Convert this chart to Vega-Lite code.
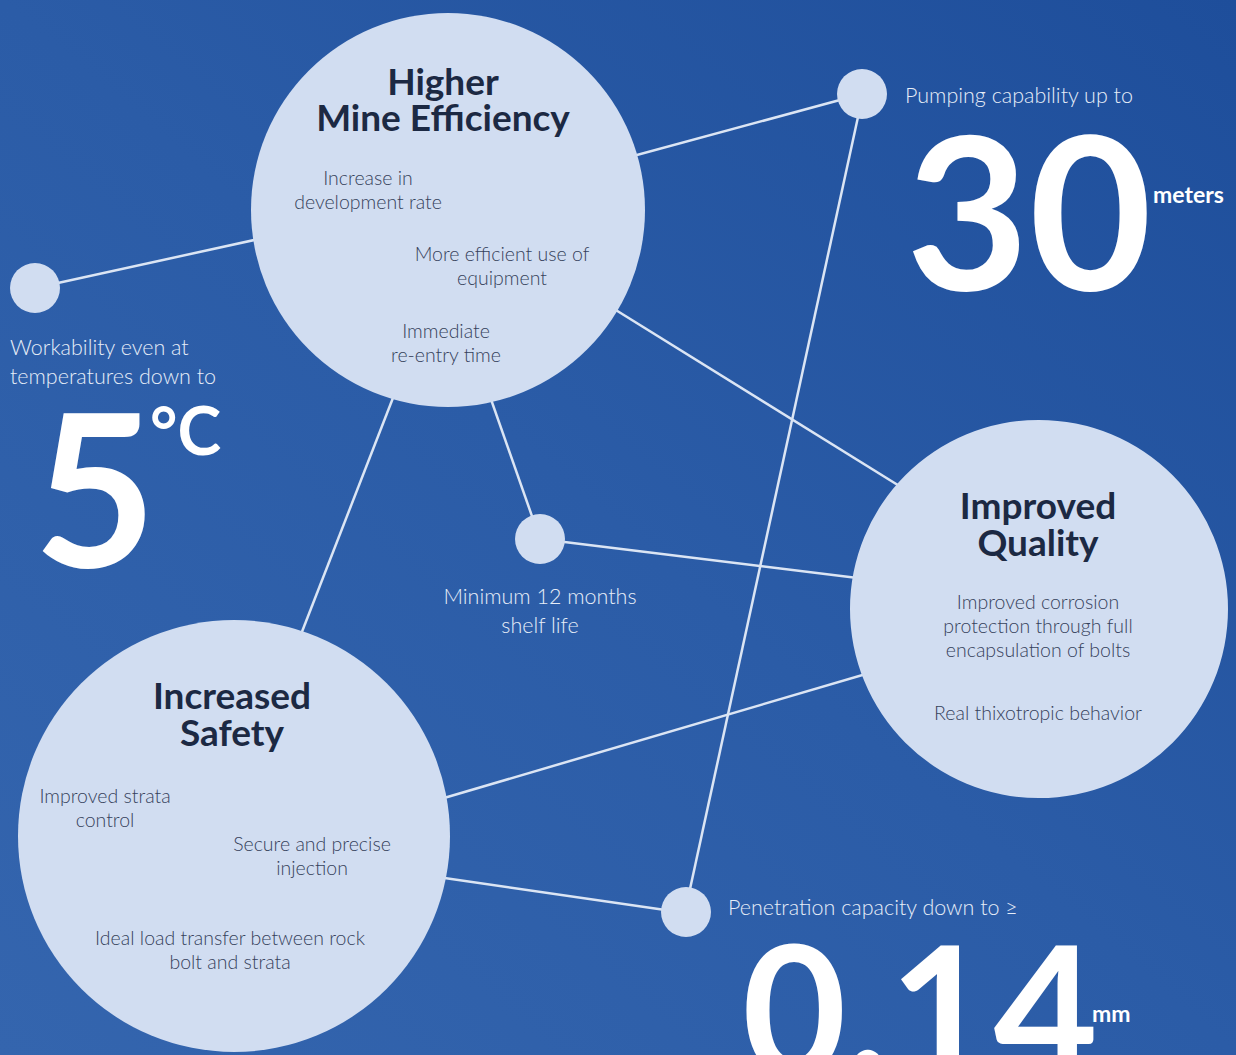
{
  "$schema": "https://vega.github.io/schema/vega-lite/v6.json",
  "width": 1236,
  "height": 1055,
  "autosize": "none",
  "padding": 0,
  "background": "#2a5ba6",
  "config": {
    "view": {
      "stroke": null,
      "fill": {
        "gradient": "linear",
        "x1": 0, "y1": 1, "x2": 1, "y2": 0,
        "stops": [
          {"offset": 0, "color": "#3465ae"},
          {"offset": 0.5, "color": "#2b5ca7"},
          {"offset": 1, "color": "#1e4e9b"}
        ]
      }
    }
  },
  "datasets": {
    "links": [
      {"x": 35, "y": 288, "x2": 300, "y2": 230},
      {"x": 600, "y": 165, "x2": 862, "y2": 94},
      {"x": 590, "y": 294, "x2": 930, "y2": 505},
      {"x": 405, "y": 367, "x2": 291, "y2": 660},
      {"x": 480, "y": 368, "x2": 540, "y2": 539},
      {"x": 540, "y": 539, "x2": 890, "y2": 582},
      {"x": 863, "y": 94, "x2": 685, "y2": 912},
      {"x": 900, "y": 664, "x2": 410, "y2": 808},
      {"x": 410, "y": 873, "x2": 686, "y2": 913}
    ],
    "nodes": [
      {"x": 448, "y": 210, "area": 155236},
      {"x": 1039, "y": 609, "area": 142884},
      {"x": 234, "y": 836, "area": 186624},
      {"x": 35, "y": 288, "area": 2500},
      {"x": 862, "y": 94, "area": 2500},
      {"x": 540, "y": 539, "area": 2500},
      {"x": 686, "y": 912, "area": 2500}
    ],
    "texts": [
      {"role": "title", "x": 443, "y": 84, "text": "Higher"},
      {"role": "title", "x": 443, "y": 120, "text": "Mine Efficiency"},
      {"role": "body", "x": 368, "y": 179, "text": "Increase in"},
      {"role": "body", "x": 368, "y": 203, "text": "development rate"},
      {"role": "body", "x": 502, "y": 255, "text": "More efficient use of"},
      {"role": "body", "x": 502, "y": 279, "text": "equipment"},
      {"role": "body", "x": 446, "y": 332, "text": "Immediate"},
      {"role": "body", "x": 446, "y": 356, "text": "re-entry time"},
      {"role": "title", "x": 1038, "y": 508, "text": "Improved"},
      {"role": "title", "x": 1038, "y": 545, "text": "Quality"},
      {"role": "body", "x": 1038, "y": 603, "text": "Improved corrosion"},
      {"role": "body", "x": 1038, "y": 627, "text": "protection through full"},
      {"role": "body", "x": 1038, "y": 651, "text": "encapsulation of bolts"},
      {"role": "body", "x": 1038, "y": 714, "text": "Real thixotropic behavior"},
      {"role": "title", "x": 232, "y": 698, "text": "Increased"},
      {"role": "title", "x": 232, "y": 735, "text": "Safety"},
      {"role": "body", "x": 105, "y": 797, "text": "Improved strata"},
      {"role": "body", "x": 105, "y": 821, "text": "control"},
      {"role": "body", "x": 312, "y": 845, "text": "Secure and precise"},
      {"role": "body", "x": 312, "y": 869, "text": "injection"},
      {"role": "body", "x": 230, "y": 939, "text": "Ideal load transfer between rock"},
      {"role": "body", "x": 230, "y": 963, "text": "bolt and strata"},
      {"role": "label", "x": 10, "y": 349, "text": "Workability even at"},
      {"role": "label", "x": 10, "y": 378, "text": "temperatures down to"},
      {"role": "label", "x": 905, "y": 97, "text": "Pumping capability up to"},
      {"role": "label", "x": 728, "y": 909, "text": "Penetration capacity down to ≥"},
      {"role": "labelc", "x": 540, "y": 598, "text": "Minimum 12 months"},
      {"role": "labelc", "x": 540, "y": 627, "text": "shelf life"},
      {"role": "big", "x": 95, "y": 567, "text": "5"},
      {"role": "big", "x": 1029, "y": 290, "text": "30"},
      {"role": "bigsmall", "x": 742, "y": 1076, "text": "0.14"},
      {"role": "degree", "x": 150, "y": 455, "text": "°C"},
      {"role": "unit", "x": 1153, "y": 196, "text": "meters"},
      {"role": "unit", "x": 1092, "y": 1015, "text": "mm"}
    ]
  },
  "encoding": {
    "x": {"field": "x", "type": "quantitative", "scale": {"domain": [0, 1236], "nice": false, "zero": false}, "axis": null},
    "y": {"field": "y", "type": "quantitative", "scale": {"domain": [0, 1055], "nice": false, "zero": false, "reverse": true}, "axis": null}
  },
  "layer": [
    {
      "data": {"name": "links"},
      "mark": {"type": "rule", "color": "#dbe5f4", "strokeWidth": 2.5},
      "encoding": {
        "x2": {"field": "x2"},
        "y2": {"field": "y2"}
      }
    },
    {
      "data": {"name": "nodes"},
      "mark": {"type": "point", "shape": "circle", "filled": true, "color": "#d1ddf1", "opacity": 1},
      "encoding": {
        "size": {"field": "area", "type": "quantitative", "scale": null, "legend": null}
      }
    },
    {
      "data": {"name": "texts"},
      "transform": [{"filter": "datum.role === 'title'"}],
      "mark": {"type": "text", "font": "Lato", "fontWeight": "bold", "fontSize": 37, "color": "#1c2943", "align": "center", "baseline": "middle"},
      "encoding": {"text": {"field": "text"}}
    },
    {
      "data": {"name": "texts"},
      "transform": [{"filter": "datum.role === 'body'"}],
      "mark": {"type": "text", "font": "Lato", "fontWeight": 300, "fontSize": 19.5, "color": "#36425c", "align": "center", "baseline": "middle"},
      "encoding": {"text": {"field": "text"}}
    },
    {
      "data": {"name": "texts"},
      "transform": [{"filter": "datum.role === 'label'"}],
      "mark": {"type": "text", "font": "Lato", "fontWeight": 300, "fontSize": 21.5, "color": "#e6edf8", "align": "left", "baseline": "middle"},
      "encoding": {"text": {"field": "text"}}
    },
    {
      "data": {"name": "texts"},
      "transform": [{"filter": "datum.role === 'labelc'"}],
      "mark": {"type": "text", "font": "Lato", "fontWeight": 300, "fontSize": 21.5, "color": "#e6edf8", "align": "center", "baseline": "middle"},
      "encoding": {"text": {"field": "text"}}
    },
    {
      "data": {"name": "texts"},
      "transform": [{"filter": "datum.role === 'big'"}],
      "mark": {"type": "text", "font": "Lato", "fontWeight": "bold", "fontSize": 212, "color": "#ffffff", "align": "center", "baseline": "alphabetic"},
      "encoding": {"text": {"field": "text"}}
    },
    {
      "data": {"name": "texts"},
      "transform": [{"filter": "datum.role === 'bigsmall'"}],
      "mark": {"type": "text", "font": "Lato", "fontWeight": "bold", "fontSize": 180, "color": "#ffffff", "align": "left", "baseline": "alphabetic"},
      "encoding": {"text": {"field": "text"}}
    },
    {
      "data": {"name": "texts"},
      "transform": [{"filter": "datum.role === 'degree'"}],
      "mark": {"type": "text", "font": "Lato", "fontWeight": "bold", "fontSize": 66, "color": "#ffffff", "align": "left", "baseline": "alphabetic"},
      "encoding": {"text": {"field": "text"}}
    },
    {
      "data": {"name": "texts"},
      "transform": [{"filter": "datum.role === 'unit'"}],
      "mark": {"type": "text", "font": "Lato", "fontWeight": "bold", "fontSize": 23, "color": "#ffffff", "align": "left", "baseline": "middle"},
      "encoding": {"text": {"field": "text"}}
    }
  ]
}
